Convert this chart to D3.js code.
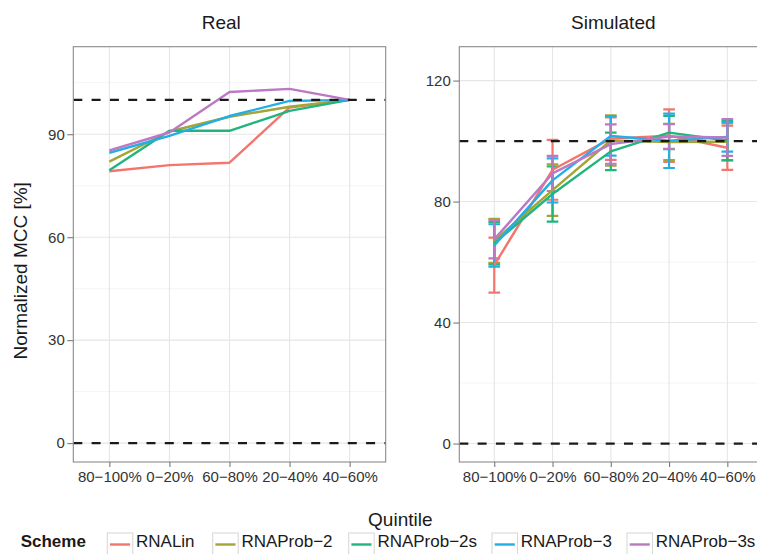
<!DOCTYPE html>
<html><head><meta charset="utf-8">
<script src="https://cdn.jsdelivr.net/npm/d3@7"></script>
<style>
html,body{margin:0;padding:0;overflow:hidden;background:#fff;}
text{font-family:"Liberation Sans",Arial,Helvetica,sans-serif;}
</style></head>
<body><svg id="c" width="757" height="554"></svg>
<script>
const categories = ["80−100%","0−20%","60−80%","20−40%","40−60%"];
const schemes = ["RNALin","RNAProb−2","RNAProb−2s","RNAProb−3","RNAProb−3s"];
const colors = ["#F2766D","#A3A535","#22B47D","#22AEE6","#BB79C4"];

// Real panel values
const realRNALin    = [79.2, 81.0, 81.7, 97.8, 100];
const realRNAProb2  = [82.0, 90.8, 95.1, 98.0, 100];
const realRNAProb2s = [79.5, 91.0, 91.0, 96.8, 100];
const realRNAProb3  = [84.6, 89.5, 95.3, 99.7, 100];
const realRNAProb3s = [85.3, 90.5, 102.3, 103.2, 100];

// Simulated panel means and error half-widths
const simRNALin    = [59.0, 90.5, 100.8, 101.8, 97.8];
const simRNAProb2  = [67.0, 83.8, 100.2, 99.7, 99.8];
const simRNAProb2s = [66.2, 82.5, 96.6, 102.8, 100.2];
const simRNAProb3  = [65.5, 87.0, 101.7, 100.1, 101.4];
const simRNAProb3s = [67.5, 89.3, 99.0, 101.5, 101.2];
const errRNALin    = [9.1, 9.9, 7.0, 8.7, 7.3];
const errRNAProb2  = [7.3, 8.5, 8.3, 6.0, 6.1];
const errRNAProb2s = [7.0, 9.1, 6.2, 5.5, 6.6];
const errRNAProb3  = [7.0, 7.3, 6.5, 9.0, 4.9];
const errRNAProb3s = [6.3, 5.8, 6.5, 4.1, 6.1];

const realTicks = [0, 30, 60, 90];
const realMinor = [15, 45, 75, 105];
const simTicks = [0, 40, 80, 120];
const simMinor = [20, 60, 100];
const refLines = [0, 100];

const realSeries = [realRNALin, realRNAProb2, realRNAProb2s, realRNAProb3, realRNAProb3s];
const simSeries = [simRNALin, simRNAProb2, simRNAProb2s, simRNAProb3, simRNAProb3s];
const simErr = [errRNALin, errRNAProb2, errRNAProb2s, errRNAProb3, errRNAProb3s];

const svg = d3.select("#c");
const pTop = 46.7, pBottom = 462;

function panel(cfg){
  const x = d3.scalePoint().domain(categories).range([cfg.x0, cfg.x1]).padding(0.6);
  const y = d3.scaleLinear().domain(cfg.ydom).range([pBottom, pTop]);
  const g = svg.append("g");
  g.append("rect").attr("x",cfg.x0).attr("y",pTop).attr("width",cfg.x1-cfg.x0).attr("height",pBottom-pTop).attr("fill","#fff");
  g.selectAll(".mn").data(cfg.minor).join("line")
    .attr("x1",cfg.x0).attr("x2",cfg.x1).attr("y1",d=>y(d)).attr("y2",d=>y(d))
    .attr("stroke","#f4f4f4").attr("stroke-width",1);
  g.selectAll(".mj").data(cfg.ticks).join("line")
    .attr("x1",cfg.x0).attr("x2",cfg.x1).attr("y1",d=>y(d)).attr("y2",d=>y(d))
    .attr("stroke","#e6e6e6").attr("stroke-width",1.1);
  g.selectAll(".vx").data(categories).join("line")
    .attr("x1",d=>x(d)).attr("x2",d=>x(d)).attr("y1",pTop).attr("y2",pBottom)
    .attr("stroke","#e6e6e6").attr("stroke-width",1.1);
  if (cfg.err) {
    cfg.series.forEach((s,i)=>{
      const eg = g.append("g").attr("stroke",colors[i]).attr("stroke-width",2.2).attr("fill","none");
      s.forEach((v,j)=>{
        const cx = x(categories[j]), lo = y(v-cfg.err[i][j]), hi = y(v+cfg.err[i][j]);
        const hw = x.step()*0.1;
        eg.append("path").attr("d",`M${cx-hw},${hi}H${cx+hw}M${cx},${hi}V${lo}M${cx-hw},${lo}H${cx+hw}`);
      });
    });
  }
  const line = d3.line().x((d,j)=>x(categories[j])).y(d=>y(d));
  cfg.series.forEach((s,i)=>{
    g.append("path").datum(s).attr("d",line).attr("fill","none")
      .attr("stroke",colors[i]).attr("stroke-width",2.4).attr("stroke-linejoin","round");
  });
  g.selectAll(".rf").data(refLines).join("line")
    .attr("x1",cfg.x0).attr("x2",cfg.x1).attr("y1",d=>y(d)).attr("y2",d=>y(d))
    .attr("stroke","#1a1a1a").attr("stroke-width",2.3).attr("stroke-dasharray","9,9.3");
  g.append("rect").attr("x",cfg.x0).attr("y",pTop).attr("width",cfg.x1-cfg.x0).attr("height",pBottom-pTop)
    .attr("fill","none").attr("stroke","#8a8a8a").attr("stroke-width",1.1);
  const ya = d3.axisLeft(y).tickValues(cfg.ticks).tickSize(6).tickPadding(2.5);
  const yg = svg.append("g").attr("transform",`translate(${cfg.x0},0)`).call(ya);
  yg.select(".domain").remove();
  yg.selectAll("line").attr("stroke","#7a7a7a").attr("stroke-width",1.1);
  yg.selectAll("text").attr("font-size",15).attr("fill","#333").attr("font-family","Liberation Sans, Arial, sans-serif");
  const xa = d3.axisBottom(x).tickSize(5).tickPadding(4);
  const xg = svg.append("g").attr("transform",`translate(0,${pBottom})`).call(xa);
  xg.select(".domain").remove();
  xg.selectAll("line").attr("stroke","#7a7a7a").attr("stroke-width",1.1);
  xg.selectAll("text").attr("font-size",15).attr("fill","#333").attr("font-family","Liberation Sans, Arial, sans-serif");
  svg.append("text").attr("x",cfg.tx).attr("y",29.3).attr("text-anchor","middle")
    .attr("font-size",19).attr("fill","#1a1a1a").text(cfg.title);
}

panel({x0:73.3, x1:385.7, ydom:[-5.5,115.5], ticks:realTicks, minor:realMinor, series:realSeries, title:"Real", tx:221.2});
panel({x0:459.3, x1:762.3, ydom:[-6.1,131.2], ticks:simTicks, minor:simMinor, series:simSeries, err:simErr, title:"Simulated", tx:613.3});

svg.append("text").attr("transform","translate(27,270.8) rotate(-90)").attr("text-anchor","middle")
  .attr("font-size",19).attr("fill","#1a1a1a").text("Normalized MCC [%]");
svg.append("text").attr("x",400.3).attr("y",526).attr("text-anchor","middle")
  .attr("font-size",19).attr("fill","#1a1a1a").text("Quintile");

svg.append("text").attr("x",20.7).attr("y",546.5).attr("font-size",17).attr("font-weight","bold")
  .attr("fill","#1a1a1a").text("Scheme");
const keyX = [107.3, 212.7, 348.7, 492, 627];
schemes.forEach((s,i)=>{
  const kx = keyX[i];
  svg.append("rect").attr("x",kx).attr("y",533).attr("width",25.5).attr("height",25.5)
    .attr("fill","#fff").attr("stroke","#d9d9d9").attr("stroke-width",1.1);
  svg.append("line").attr("x1",kx+2.7).attr("x2",kx+22.8).attr("y1",544.5).attr("y2",544.5)
    .attr("stroke",colors[i]).attr("stroke-width",2.4);
  svg.append("text").attr("x",kx+28.7).attr("y",546.5).attr("font-size",17).attr("fill","#1a1a1a").text(s);
});
</script></body></html>
